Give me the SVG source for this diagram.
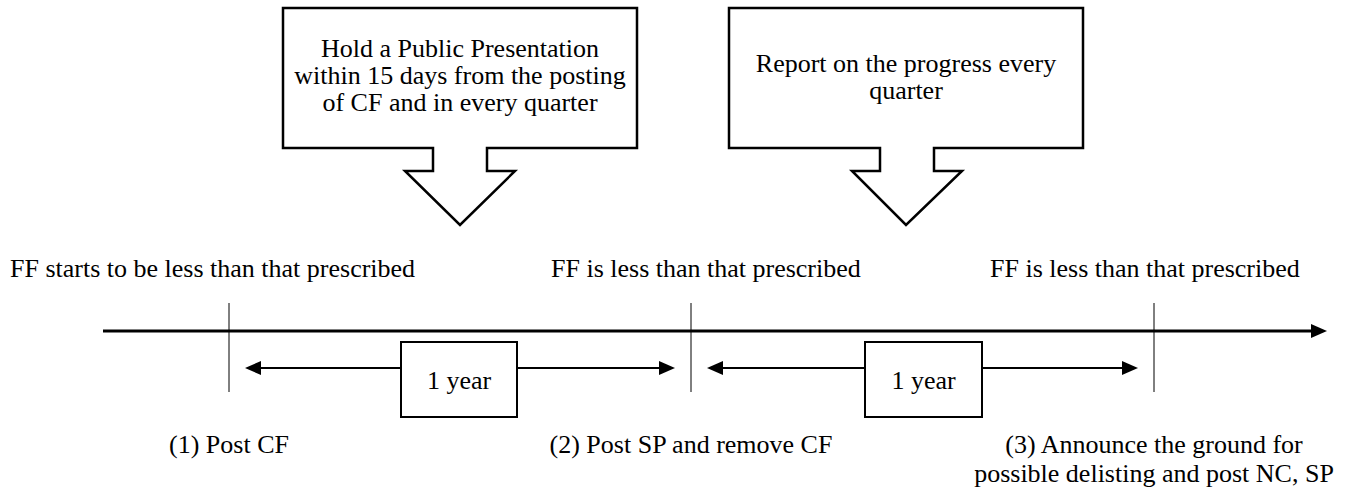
<svg xmlns="http://www.w3.org/2000/svg" width="1371" height="490" viewBox="0 0 1371 490">
  <style>
    text { font-family: "Times New Roman", "Liberation Serif", Tinos, "Noto Serif", "DejaVu Serif", serif; font-size: 26px; fill: #000; }
    .mid { text-anchor: middle; }
    .callout { fill: #fff; stroke: #000; stroke-width: 2.5; stroke-linejoin: miter; }
    .box { fill: #fff; stroke: #000; stroke-width: 2; }
    .axis { stroke: #000; stroke-width: 3; fill: none; }
    .tick { stroke: #000; stroke-width: 1; fill: none; }
    .span { stroke: #000; stroke-width: 2.2; fill: none; }
  </style>
  <defs>
    <marker id="head" viewBox="0 0 16 14" refX="0" refY="7" markerWidth="16" markerHeight="14" markerUnits="userSpaceOnUse" orient="auto-start-reverse">
      <path d="M0,0 L16,7 L0,14 Z" fill="#000"/>
    </marker>
  </defs>
  <rect width="1371" height="490" fill="#fff"/>

  <g id="callout-1">
    <path class="callout" d="M283,8 H637 V148 H487 V171 H515 L460,225 L405,171 H433 V148 H283 Z"/>
    <text class="mid" x="460" y="57">Hold a Public Presentation</text>
    <text class="mid" x="460" y="84">within 15 days from the posting</text>
    <text class="mid" x="460" y="111">of CF and in every quarter</text>
  </g>

  <g id="callout-2">
    <path class="callout" d="M729,8 H1083 V148 H934 V171 H962 L906,225 L852,171 H880 V148 H729 Z"/>
    <text class="mid" x="906" y="72">Report on the progress every</text>
    <text class="mid" x="906" y="99">quarter</text>
  </g>

  <g id="label-start">
    <text x="10" y="277">FF starts to be less than that prescribed</text>
  </g>
  <g id="label-mid">
    <text x="551" y="277">FF is less than that prescribed</text>
  </g>
  <g id="label-end">
    <text x="990" y="277">FF is less than that prescribed</text>
  </g>

  <g id="connectors">
    <line class="axis" x1="103" y1="331" x2="1311" y2="331" marker-end="url(#head)"/>
    <line class="tick" x1="229" y1="303" x2="229" y2="392"/>
    <line class="tick" x1="691" y1="303" x2="691" y2="392"/>
    <line class="tick" x1="1154" y1="303" x2="1154" y2="392"/>
    <line class="span" x1="261" y1="368" x2="401" y2="368" marker-start="url(#head)"/>
    <line class="span" x1="517" y1="368" x2="659" y2="368" marker-end="url(#head)"/>
    <line class="span" x1="723" y1="368" x2="865" y2="368" marker-start="url(#head)"/>
    <line class="span" x1="982" y1="368" x2="1122" y2="368" marker-end="url(#head)"/>
  </g>

  <g id="year-1">
    <rect class="box" x="401" y="342" width="116" height="75"/>
    <text class="mid" x="459" y="389">1 year</text>
  </g>
  <g id="year-2">
    <rect class="box" x="865" y="342" width="117" height="75"/>
    <text class="mid" x="923.5" y="389">1 year</text>
  </g>

  <g id="step-1">
    <text class="mid" x="229" y="453">(1) Post CF</text>
  </g>
  <g id="step-2">
    <text class="mid" x="691" y="453">(2) Post SP and remove CF</text>
  </g>
  <g id="step-3">
    <text class="mid" x="1154" y="453">(3) Announce the ground for</text>
    <text class="mid" x="1154" y="482">possible delisting and post NC, SP</text>
  </g>
</svg>
